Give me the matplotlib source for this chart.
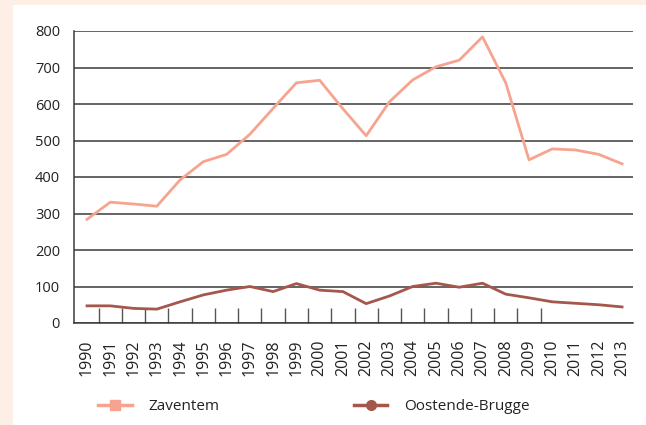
import matplotlib
matplotlib.use('Agg')
import matplotlib.pyplot as plt
from matplotlib.patches import Rectangle

years = list(range(1990, 2014))
zaventem = [284, 331, 326, 320, 392, 442, 462, 517, 588, 658, 665, 587,
            513, 606, 666, 702, 720, 784, 658, 447, 477, 474, 462, 436]
oostende = [47, 47, 40, 38, 58, 77, 90, 100, 86, 108, 90, 86,
            53, 74, 100, 109, 98, 109, 79, 69, 58, 54, 50, 44]
yticks = [0, 100, 200, 300, 400, 500, 600, 700, 800]

col_zav = '#f6a48f'
col_oos = '#a5574b'
grid_col = '#3a3a3a'

plt.rcParams['font.family'] = ['Open Sans', 'DejaVu Sans']

fig = plt.figure(figsize=(6.46, 4.25), dpi=100, facecolor='#fdefe6')
# white panel on top of the cream background
fig.patches.append(Rectangle((13 / 646, 0), 1, 1 - 5 / 425, transform=fig.transFigure,
                             facecolor='white', edgecolor='none', zorder=-1))

ax = fig.add_axes([74 / 646, 1 - 323 / 425, (633 - 74) / 646, (323 - 31) / 425])
ax.set_zorder(1)
ax.set_facecolor('white')

x = list(range(len(years)))
ax.plot(x, zaventem, color=col_zav, lw=2.0, label='Zaventem')
ax.plot(x, oostende, color=col_oos, lw=2.0, label='Oostende-Brugge')

ax.set_ylim(0, 800)
ax.set_xlim(-0.56, 23.47)
ax.set_yticks(yticks)
ax.set_yticklabels([str(v) for v in yticks], fontsize=10.5, color='#222222')
ax.yaxis.grid(True, color=grid_col, lw=1.1)
ax.set_axisbelow(True)
ax.tick_params(axis='y', length=0, pad=10)

ax.set_xticks(x)
ax.set_xticklabels([str(y) for y in years], rotation=90, fontsize=11.5, color='#222222')
ax.tick_params(axis='x', which='major', length=0, pad=12)
ax.set_xticks([i + 0.5 for i in range(20)], minor=True)
ax.tick_params(axis='x', which='minor', direction='in', length=11, width=1, color='#555555')

for s in ['top', 'right']:
    ax.spines[s].set_visible(False)
for s in ['left', 'bottom']:
    ax.spines[s].set_color(grid_col)
    ax.spines[s].set_linewidth(1.1)

# legend with visible markers
h1, = ax.plot([], [], color=col_zav, lw=2.5, marker='s', markersize=7)
h2, = ax.plot([], [], color=col_oos, lw=2.5, marker='o', markersize=7)
leg = fig.legend([h1, h2], ['Zaventem', 'Oostende-Brugge'], loc='center left',
                 bbox_to_anchor=(98 / 646, 1 - 407 / 425), ncol=2, frameon=False,
                 fontsize=11, handlelength=2.2, columnspacing=8.8, handletextpad=1.1,
                 borderpad=0, borderaxespad=0)
for t in leg.get_texts():
    t.set_color('#222222')

plt.savefig('out.png', dpi=100, facecolor=fig.get_facecolor())
